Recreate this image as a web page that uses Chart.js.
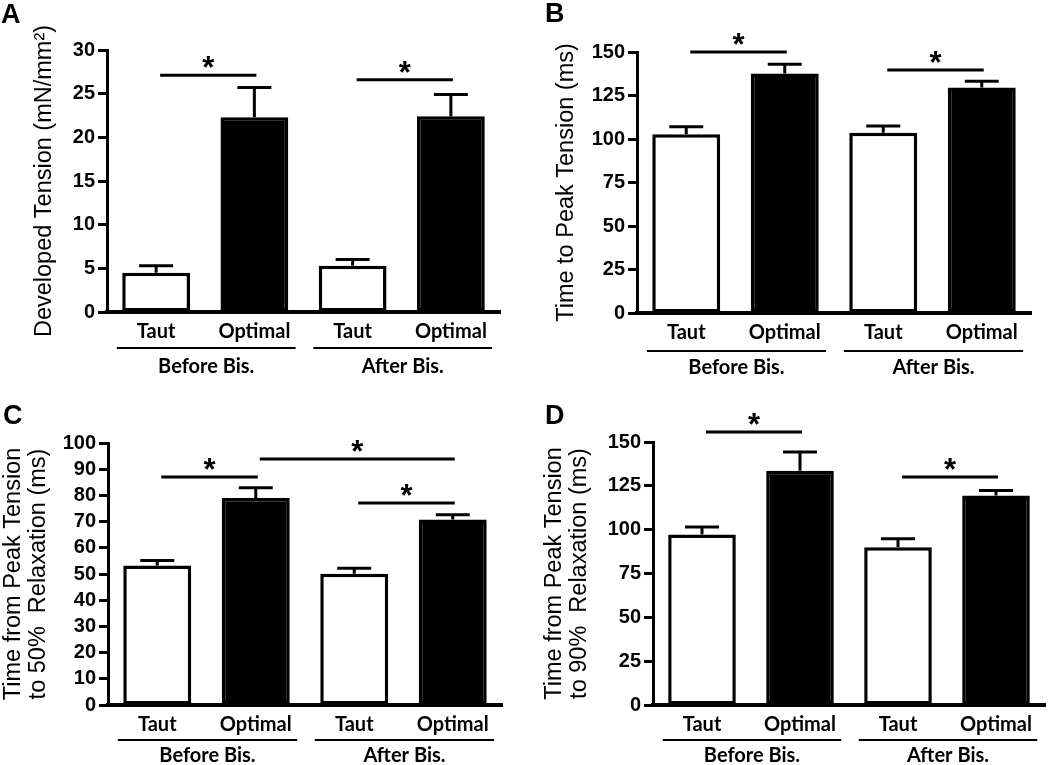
<!DOCTYPE html>
<html>
<head>
<meta charset="utf-8">
<script src="https://cdn.jsdelivr.net/npm/chart.js@4.4.1/dist/chart.umd.min.js"></script>
<style>
  body { margin: 0; background: #fff; }
  #wrap { position: relative; width: 1050px; height: 765px; }
  canvas { position: absolute; }
</style>
</head>
<body>
<div id="wrap">
  <canvas id="cA" width="525" height="382" style="left:0;top:0"></canvas>
  <canvas id="cB" width="525" height="382" style="left:525px;top:0"></canvas>
  <canvas id="cC" width="525" height="383" style="left:0;top:382px"></canvas>
  <canvas id="cD" width="525" height="383" style="left:525px;top:382px"></canvas>
</div>
<script>
// categories shared by every panel
const categories = ['Taut', 'Optimal', 'Taut', 'Optimal'];
const groupLabels = ['Before Bis.', 'After Bis.'];

// A - developed tension (mN/mm2)
const tensionMean = [4.5, 22.3, 5.3, 22.4];
const tensionSem = [0.8, 3.4, 0.7, 2.5];
const tensionSig = [[0, 1, 27.1], [2, 3, 26.6]];

// B - time to peak tension (ms)
const ttpMean = [102.8, 137.6, 103.6, 129.6];
const ttpSem = [4.2, 5.4, 3.8, 3.6];
const ttpSig = [[0, 1, 150], [2, 3, 139.7]];

// C - peak to 50% relaxation (ms)
const rt50Mean = [53.2, 79.0, 50.1, 70.8];
const rt50Sem = [2.0, 3.9, 2.1, 1.8];
const rt50Sig = [[0, 1, 87.0], [1, 3, 93.9], [2, 3, 77.1]];

// D - peak to 90% relaxation (ms)
const rt90Mean = [97.3, 133.6, 90.0, 119.5];
const rt90Sem = [4.2, 10.7, 4.8, 2.9];
const rt90Sig = [[0, 1, 155.7], [2, 3, 130.1]];

const ARIAL = '"Liberation Sans", Arial, sans-serif';
const CALI = 'Lato, "Open Sans", sans-serif';

function line(ctx, x0, y0, x1, y1) {
  ctx.beginPath(); ctx.moveTo(x0, y0); ctx.lineTo(x1, y1); ctx.stroke();
}

const panelPlugin = {
  id: 'panel',
  afterDraw(chart, args, o) {
    const ctx = chart.ctx;
    const xs = chart.scales.x, ys = chart.scales.y;
    const meta = chart.getDatasetMeta(0);
    const vals = chart.data.datasets[0].data;
    ctx.save();
    ctx.strokeStyle = '#000';
    ctx.fillStyle = '#000';
    ctx.lineWidth = 3;

    // error bars (upper only)
    o.sem.forEach((e, i) => {
      const bx = meta.data[i].x;
      const y0 = ys.getPixelForValue(vals[i]);
      const y1 = ys.getPixelForValue(vals[i] + e);
      line(ctx, bx, y0, bx, y1);
      line(ctx, bx - 17, y1, bx + 17, y1);
    });

    // significance bars
    ctx.font = 'bold 31px ' + ARIAL;
    ctx.textAlign = 'center';
    ctx.textBaseline = 'alphabetic';
    const m = ctx.measureText('*');
    const half = (m.actualBoundingBoxAscent - m.actualBoundingBoxDescent) / 2;
    o.sig.forEach(([a, b, v]) => {
      const x0 = xs.getPixelForValue(a) + 4;
      const x1 = xs.getPixelForValue(b) + 2;
      const yy = ys.getPixelForValue(v);
      line(ctx, x0, yy, x1, yy);
      ctx.fillText('*', (x0 + x1) / 2, yy - 13 + half);
    });

    // group brackets under the axis
    const sp = xs.getPixelForValue(1) - xs.getPixelForValue(0);
    const bottom = chart.chartArea.bottom;
    ctx.lineWidth = 2;
    ctx.font = 'bold 20px ' + CALI;
    ctx.textBaseline = 'middle';
    groupLabels.forEach((g, k) => {
      const c0 = xs.getPixelForValue(2 * k), c1 = xs.getPixelForValue(2 * k + 1);
      line(ctx, c0 - 0.4 * sp, bottom + o.lineOff, c1 + 0.42 * sp, bottom + o.lineOff);
      ctx.fillText(g, (c0 + c1) / 2 + 0.01 * sp, bottom + o.labelOff);
    });

    // panel letter
    ctx.font = 'bold 27px ' + ARIAL;
    ctx.textAlign = 'left';
    ctx.textBaseline = 'alphabetic';
    ctx.fillText(o.letter, o.letterX, o.letterY);
    ctx.restore();
  }
};

function makeChart(id, p) {
  const cv = document.getElementById(id);
  const H = cv.height;
  return new Chart(cv, {
    type: 'bar',
    data: {
      labels: categories,
      datasets: [{
        data: p.mean,
        backgroundColor: ['#fff', '#000', '#fff', '#000'],
        borderColor: '#000',
        borderWidth: 3.5,
        borderSkipped: false,
        barPercentage: 0.69,
        categoryPercentage: 1
      }]
    },
    options: {
      responsive: false,
      animation: false,
      layout: { padding: { left: 0, top: p.top, right: cv.width - p.right, bottom: 0 } },
      plugins: {
        legend: { display: false },
        tooltip: { enabled: false },
        panel: {
          sem: p.sem, sig: p.sig, letter: p.letter, letterX: p.letterX, letterY: p.letterY,
          lineOff: p.lineOff, labelOff: p.labelOff
        }
      },
      scales: {
        x: {
          offset: true,
          grid: { display: false, drawTicks: false },
          border: { display: true, color: '#000', width: 4 },
          ticks: { color: '#000', padding: 8, font: { family: CALI, size: 20, weight: 'bold' } },
          afterFit: s => { s.height = H - p.bottom; }
        },
        y: {
          min: 0, max: p.max,
          ticks: {
            stepSize: p.step, autoSkip: false, color: '#000', padding: 3,
            font: { family: ARIAL, size: 20, weight: 'bold' }
          },
          grid: { drawOnChartArea: false, drawTicks: true, tickLength: 9, tickWidth: 3, tickColor: '#000' },
          border: { display: true, color: '#000', width: 3 },
          title: {
            display: true, text: p.title, color: '#000',
            font: { family: ARIAL, size: 23.5, weight: 'normal', lineHeight: 1.07 },
            padding: { top: p.titlePad, bottom: 0 }
          },
          afterFit: s => { s.width = p.left; }
        }
      }
    },
    plugins: [panelPlugin]
  });
}

makeChart('cA', {
  mean: tensionMean, sem: tensionSem, sig: tensionSig, max: 30, step: 5,
  title: 'Developed Tension (mN/mm\u00b2)', titlePad: 32,
  left: 107, right: 500, top: 50, bottom: 312, letter: 'A', letterX: 1, letterY: 23,
  lineOff: 36, labelOff: 55
});
makeChart('cB', {
  mean: ttpMean, sem: ttpSem, sig: ttpSig, max: 150, step: 25,
  title: 'Time to Peak Tension (ms)', titlePad: 29,
  left: 112, right: 506, top: 52, bottom: 313, letter: 'B', letterX: 20, letterY: 22,
  lineOff: 38, labelOff: 55
});
makeChart('cC', {
  mean: rt50Mean, sem: rt50Sem, sig: rt50Sig, max: 100, step: 10,
  title: ['Time from Peak Tension', 'to 50%  Relaxation (ms)'], titlePad: 1,
  left: 108, right: 502, top: 61, bottom: 323, letter: 'C', letterX: 3, letterY: 42,
  lineOff: 35, labelOff: 51
});
makeChart('cD', {
  mean: rt90Mean, sem: rt90Sem, sig: rt90Sig, max: 150, step: 25,
  title: ['Time from Peak Tension', 'to 90%  Relaxation (ms)'], titlePad: 17,
  left: 128, right: 520, top: 60, bottom: 323, letter: 'D', letterX: 20, letterY: 42,
  lineOff: 35, labelOff: 51
});
</script>
</body>
</html>
